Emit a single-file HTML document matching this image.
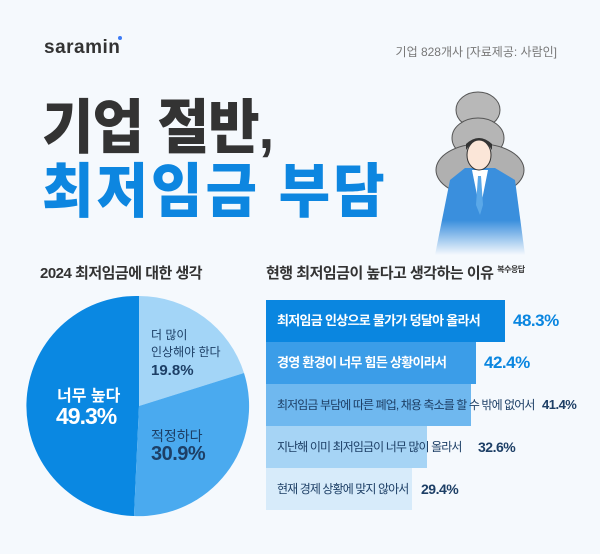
<!DOCTYPE html>
<html><head><meta charset="utf-8"><style>
body{margin:0;width:600px;height:554px;background:#f5f9fd;overflow:hidden;position:relative;font-family:"Liberation Sans","Noto Sans CJK KR",sans-serif}
.a{position:absolute;white-space:nowrap}
.t{font-weight:900;font-size:56px;letter-spacing:-1px;transform-origin:0 0;transform:scaleY(1.06)}
.bar{position:absolute;left:266px;height:42px}
.bt{position:absolute;left:277px;font-size:13px;font-weight:700;line-height:42px;letter-spacing:-0.7px}
.bt.n{font-size:12px;font-weight:400;letter-spacing:-0.9px;color:#1d3f66}
.v{position:absolute;font-weight:700;line-height:42px;letter-spacing:-0.5px}
</style></head><body>
<div class="a" style="left:44px;top:37px;font-size:19px;font-weight:700;color:#333;letter-spacing:0.5px">saramin</div>
<div class="a" style="left:118px;top:36px;width:4px;height:4px;border-radius:50%;background:#3d7bf5"></div>
<div class="a" style="right:43px;top:43px;font-size:12px;color:#777">기업 828개사 [자료제공: 사람인]</div>
<div class="a t" style="left:42px;top:80px;color:#333">기업 절반,</div>
<div class="a t" style="left:42px;top:144px;color:#0d86e0;letter-spacing:3px">최저임금 부담</div>
<svg class="a" style="left:420px;top:70px" width="120" height="185" viewBox="0 0 120 185">
<defs><linearGradient id="f" x1="0" y1="0" x2="0" y2="1"><stop offset="0.6" stop-color="#3a8fdd"/><stop offset="1" stop-color="#f5f9fd"/></linearGradient></defs>
<ellipse cx="58" cy="40" rx="22" ry="18" fill="#b8b8b8" stroke="#555"/>
<ellipse cx="58" cy="68" rx="26" ry="20" fill="#b5b5b5" stroke="#555"/>
<ellipse cx="60" cy="100" rx="44" ry="26" fill="#b0b0b0" stroke="#555"/>
<path d="M30 110 L15 185 L105 185 L95 110 L75 98 L45 98Z" fill="url(#f)"/>
<path d="M52 100 L60 140 L68 100Z" fill="#fff"/>
<path d="M58 106 L56 135 L60 145 L63 135 L61 106Z" fill="#5aa8e8"/>
<ellipse cx="59" cy="85" rx="12" ry="15" fill="#fbe6d8" stroke="#333"/>
<path d="M46 80 Q59 60 72 80 L72 74 Q59 62 46 74Z" fill="#333"/>
</svg>
<div class="a" style="left:40px;top:262px;font-size:15px;font-weight:700;color:#333;letter-spacing:-0.5px">2024 최저임금에 대한 생각</div>
<div class="a" style="left:266px;top:262px;font-size:15px;font-weight:700;color:#333;letter-spacing:-0.5px">현행 최저임금이 높다고 생각하는 이유 <sup style="font-size:8px">복수응답</sup></div>
<svg class="a" style="left:0;top:0" width="600" height="554">
<path d="M139 406 L139 296 A110 110 0 1 0 134 516Z" fill="#0a88e2"/>
<path d="M139 406 L139 296 A110 110 0 0 1 244 373Z" fill="#a3d5f7"/>
<path d="M139 406 L244 373 A110 110 0 0 1 134 516Z" fill="#4aaaef"/>
</svg>
<div class="a" style="left:57px;top:382px;font-size:16px;font-weight:700;color:#fff">너무 높다</div>
<div class="a" style="left:56px;top:403px;font-size:23px;font-weight:700;color:#fff;letter-spacing:-1px">49.3%</div>
<div class="a" style="left:151px;top:327px;font-size:12px;color:#1d3f66;line-height:17px">더 많이<br>인상해야 한다</div>
<div class="a" style="left:151px;top:362px;font-size:15px;font-weight:700;color:#1d3f66">19.8%</div>
<div class="a" style="left:151px;top:426px;font-size:14px;color:#1d3f66">적정하다</div>
<div class="a" style="left:151px;top:443px;font-size:20px;font-weight:700;color:#1d3f66;letter-spacing:-0.5px">30.9%</div>
<div class="bar" style="top:300px;width:239px;background:#0a86e0"></div>
<div class="bar" style="top:342px;width:210px;background:#3b9de8"></div>
<div class="bar" style="top:384px;width:205px;background:#6fb8ef"></div>
<div class="bar" style="top:426px;width:161px;background:#a6d4f5"></div>
<div class="bar" style="top:468px;width:146px;background:#d7ebfa"></div>
<div class="bt" style="top:300px;color:#fff">최저임금 인상으로 물가가 덩달아 올라서</div>
<div class="bt" style="top:342px;color:#fff">경영 환경이 너무 힘든 상황이라서</div>
<div class="bt n" style="top:384px">최저임금 부담에 따른 폐업, 채용 축소를 할 수 밖에 없어서</div>
<div class="bt n" style="top:426px">지난해 이미 최저임금이 너무 많이 올라서</div>
<div class="bt n" style="top:468px">현재 경제 상황에 맞지 않아서</div>
<div class="v" style="top:300px;left:513px;font-size:17px;color:#0a86e0">48.3%</div>
<div class="v" style="top:342px;left:484px;font-size:17px;color:#0a86e0">42.4%</div>
<div class="v" style="top:384px;left:542px;font-size:13px;color:#1d3f66">41.4%</div>
<div class="v" style="top:426px;left:478px;font-size:14px;color:#1d3f66">32.6%</div>
<div class="v" style="top:468px;left:421px;font-size:14px;color:#1d3f66">29.4%</div>
</body></html>
